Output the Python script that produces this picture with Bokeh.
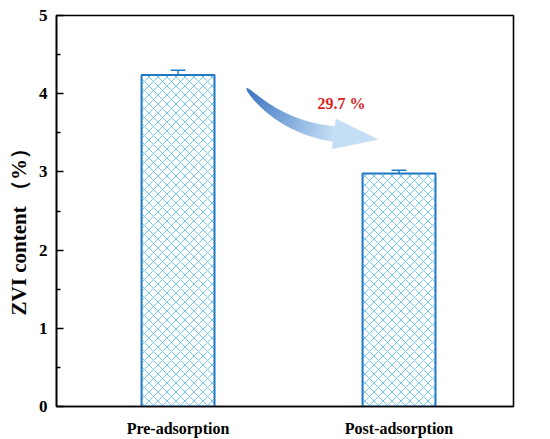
import numpy as np
from bokeh.plotting import figure
from bokeh.models import ColumnDataSource, Whisker, TeeHead, FixedTicker, Range1d, Label
from bokeh.embed import file_html
from bokeh.resources import INLINE

# ---- data ----
categories = ["Pre-adsorption", "Post-adsorption"]
positions = [1, 2]
values = [4.24, 2.98]
errors = [0.06, 0.04]
reduction_label = "29.7 %"
y_ticks = [0, 1, 2, 3, 4, 5]
y_minor = [0.5, 1.5, 2.5, 3.5, 4.5]

FONT = "Liberation Serif"
BAR_LINE = "#1f78c4"
HATCH = "#76c8f3"

X0, X1 = 0.45, 2.518
Y0, Y1 = 0.0, 5.0
FW, FH = 457, 391

p = figure(frame_width=FW, frame_height=FH, output_backend="svg", toolbar_location=None,
           x_range=Range1d(X0, X1), y_range=Range1d(Y0, Y1),
           min_border_left=56, min_border_right=29, min_border_top=15, min_border_bottom=20)
p.xgrid.visible = False
p.ygrid.visible = False
p.outline_line_color = "black"
p.outline_line_width = 1.6

src = ColumnDataSource(dict(
    x=positions, top=values,
    upper=[v + e for v, e in zip(values, errors)],
    lower=[v - e for v, e in zip(values, errors)],
))
p.vbar(x="x", top="top", bottom=0, width=0.33, source=src,
       fill_color="white", line_color=BAR_LINE, line_width=2,
       hatch_pattern="x", hatch_color=HATCH, hatch_weight=1, hatch_scale=9)

wh = Whisker(base="x", upper="upper", lower="lower", source=src,
             line_color=BAR_LINE, line_width=1.5,
             upper_head=TeeHead(size=15, line_color=BAR_LINE, line_width=1.5),
             lower_head=TeeHead(size=15, line_color=BAR_LINE, line_width=1.5))
p.add_layout(wh)

# ---- curved gradient arrow (decoration) ----
sx = FW / (X1 - X0)
sy = FH / (Y1 - Y0)
def to_px(x, y):
    return (x - X0) * sx, (y - Y0) * sy
def to_data(px, py):
    return px / sx + X0, py / sy + Y0

P0 = np.array(to_px(1.310, 4.07))
P1 = np.array(to_px(1.469, 3.568))
P2 = np.array(to_px(1.706, 3.485))
N = 40
t = np.linspace(0, 1, N + 1)
B = ((1 - t) ** 2)[:, None] * P0 + (2 * (1 - t) * t)[:, None] * P1 + (t ** 2)[:, None] * P2
dB = (2 * (1 - t))[:, None] * (P1 - P0) + (2 * t)[:, None] * (P2 - P1)
dB /= np.linalg.norm(dB, axis=1)[:, None]
perp = np.stack([-dB[:, 1], dB[:, 0]], axis=1)
w = 7.5 * np.sqrt(t)
up = B + perp * w[:, None]
lo = B - perp * w[:, None]
c0 = np.array([52, 112, 192])
c1 = np.array([196, 222, 245])
xs, ys, cols = [], [], []
for i in range(N):
    quad = [up[i], up[i + 1], lo[i + 1], lo[i]]
    qx, qy = zip(*[to_data(*q) for q in quad])
    xs.append(list(qx)); ys.append(list(qy))
    f = (i + 0.5) / N
    c = (c0 + (c1 - c0) * f).astype(int)
    cols.append("#%02x%02x%02x" % tuple(c))
p.patches(xs, ys, fill_color=cols, line_color=cols, line_width=0.6)

d_end = dB[-1]; n_end = perp[-1]
tip = P2 + d_end * 44
b1 = P2 + n_end * 15
b2 = P2 - n_end * 15
hx, hy = zip(*[to_data(*q) for q in (b1, tip, b2)])
p.patch(list(hx), list(hy), fill_color="#c4def5", line_color="#c4def5", line_width=0.6)

p.add_layout(Label(x=1.740, y=3.875, text=reduction_label, text_align="center",
                   text_baseline="middle", text_font=FONT, text_font_style="bold",
                   text_font_size="16px", text_color="#dc1e1e"))

# ---- axes ----
p.yaxis.axis_label = "ZVI content （%）\u3000\u00a0\u00a0"
p.yaxis.axis_label_text_font = FONT
p.yaxis.axis_label_text_font_style = "bold"
p.yaxis.axis_label_text_font_size = "21px"
p.yaxis.axis_label_text_color = "black"
p.yaxis.axis_label_standoff = 5
p.yaxis.ticker = FixedTicker(ticks=y_ticks, minor_ticks=y_minor)
p.yaxis.major_label_text_font = FONT
p.yaxis.major_label_text_font_style = "bold"
p.yaxis.major_label_text_font_size = "17px"
p.yaxis.major_label_text_color = "black"
p.yaxis.major_label_standoff = 9
p.yaxis.major_tick_in = 7
p.yaxis.major_tick_out = 0
p.yaxis.minor_tick_in = 4
p.yaxis.minor_tick_out = 0
p.yaxis.axis_line_width = 1.6
p.yaxis.axis_line_color = "black"
p.yaxis.major_tick_line_width = 1.4
p.yaxis.minor_tick_line_width = 1.4
p.yaxis.major_tick_line_color = "black"
p.yaxis.minor_tick_line_color = "black"

p.xaxis.ticker = FixedTicker(ticks=positions, minor_ticks=[])
p.xaxis.major_label_overrides = {pos: c for pos, c in zip(positions, categories)}
p.xaxis.major_label_text_font = FONT
p.xaxis.major_label_text_font_style = "bold"
p.xaxis.major_label_text_font_size = "16px"
p.xaxis.major_label_text_color = "black"
p.xaxis.major_label_standoff = 7
p.xaxis.major_tick_line_color = None
p.xaxis.minor_tick_line_color = None
p.xaxis.axis_line_width = 1.6
p.xaxis.axis_line_color = "black"

open("out.html", "w").write(file_html(p, INLINE))
